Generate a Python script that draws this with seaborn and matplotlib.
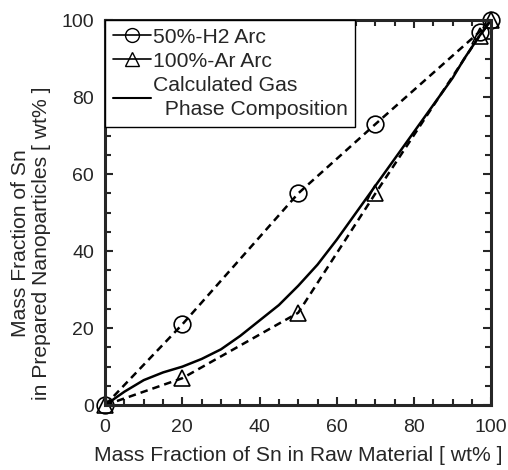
import numpy as np
import pandas as pd
import seaborn as sns
import matplotlib.pyplot as plt
from matplotlib.ticker import MultipleLocator
from matplotlib.lines import Line2D

# data
raw_h2 = [0, 20, 50, 70, 97, 100]
np_h2 = [0, 21, 55, 73, 97, 100]

raw_ar = [0, 20, 50, 70, 97, 100]
np_ar = [0, 7, 24, 55, 96, 100]

raw_calc = [0, 5, 10, 15, 20, 25, 30, 35, 40, 45, 50, 55, 60, 65, 70, 75, 80, 85, 90, 93, 97, 100]
np_calc = [0, 3.5, 6.5, 8.5, 10, 12, 14.5, 18, 22, 26, 31, 36.5, 43, 50, 57, 64, 71, 78, 85, 90, 96, 100]

sns.set_style("ticks")
plt.rcParams['font.family'] = ['Liberation Sans', 'DejaVu Sans']
FS = 15.2

df_h2 = pd.DataFrame({'raw': raw_h2, 'np': np_h2})
df_ar = pd.DataFrame({'raw': raw_ar, 'np': np_ar})
df_calc = pd.DataFrame({'raw': raw_calc, 'np': np_calc})

fig = plt.figure(figsize=(5.08, 4.70), dpi=100)
ax = fig.add_axes([0.207, 0.138, 0.76, 0.819])

sns.lineplot(data=df_calc, x='raw', y='np', ax=ax, color='black', lw=1.8, sort=False)
sns.lineplot(data=df_h2, x='raw', y='np', ax=ax, color='black', lw=1.8, linestyle=(0, (3, 2)),
             marker='o', markersize=12, markerfacecolor='none', markeredgecolor='black',
             markeredgewidth=1.2, sort=False, clip_on=False)
sns.lineplot(data=df_ar, x='raw', y='np', ax=ax, color='black', lw=1.8, linestyle=(0, (3, 2)),
             marker='^', markersize=12, markerfacecolor='none', markeredgecolor='black',
             markeredgewidth=1.2, sort=False, clip_on=False)

ax.set_xlim(0, 100)
ax.set_ylim(0, 100)
ax.xaxis.set_major_locator(MultipleLocator(20))
ax.yaxis.set_major_locator(MultipleLocator(20))
ax.xaxis.set_minor_locator(MultipleLocator(5))
ax.yaxis.set_minor_locator(MultipleLocator(5))
ax.tick_params(which='both', direction='in', top=True, right=True, width=1.5, labelsize=14)
ax.tick_params(which='major', length=6)
ax.tick_params(which='minor', length=4)
ax.tick_params(axis='x', pad=10)
ax.tick_params(axis='y', pad=8)
for s in ax.spines.values():
    s.set_linewidth(2.2)

ax.set_xlabel('Mass Fraction of Sn in Raw Material [ wt% ]', fontsize=FS, labelpad=7)
ax.set_ylabel('Mass Fraction of Sn\nin Prepared Nanoparticles [ wt% ]', fontsize=FS,
              linespacing=1.15, ha='center', va='center')
ax.yaxis.set_label_coords(-0.193, 0.42)

handles = [
    Line2D([], [], color='black', lw=1.2, marker='o', markersize=10, markerfacecolor='none'),
    Line2D([], [], color='black', lw=1.2, marker='^', markersize=10, markerfacecolor='none'),
    Line2D([], [], color='black', lw=1.5),
]
labels = ['50%-H2 Arc', '100%-Ar Arc', 'Calculated Gas\n  Phase Composition']
leg = ax.legend(handles, labels, loc='upper left', borderaxespad=0, fontsize=FS,
                frameon=True, fancybox=False, handlelength=1.8, handletextpad=0.1,
                labelspacing=0.25, borderpad=0.35)
for t in leg.get_texts():
    t.set_linespacing(1.35)
leg.get_frame().set_edgecolor('black')
leg.get_frame().set_linewidth(1.0)
leg.get_frame().set_alpha(1)

fig.savefig('out.png', dpi=100)
